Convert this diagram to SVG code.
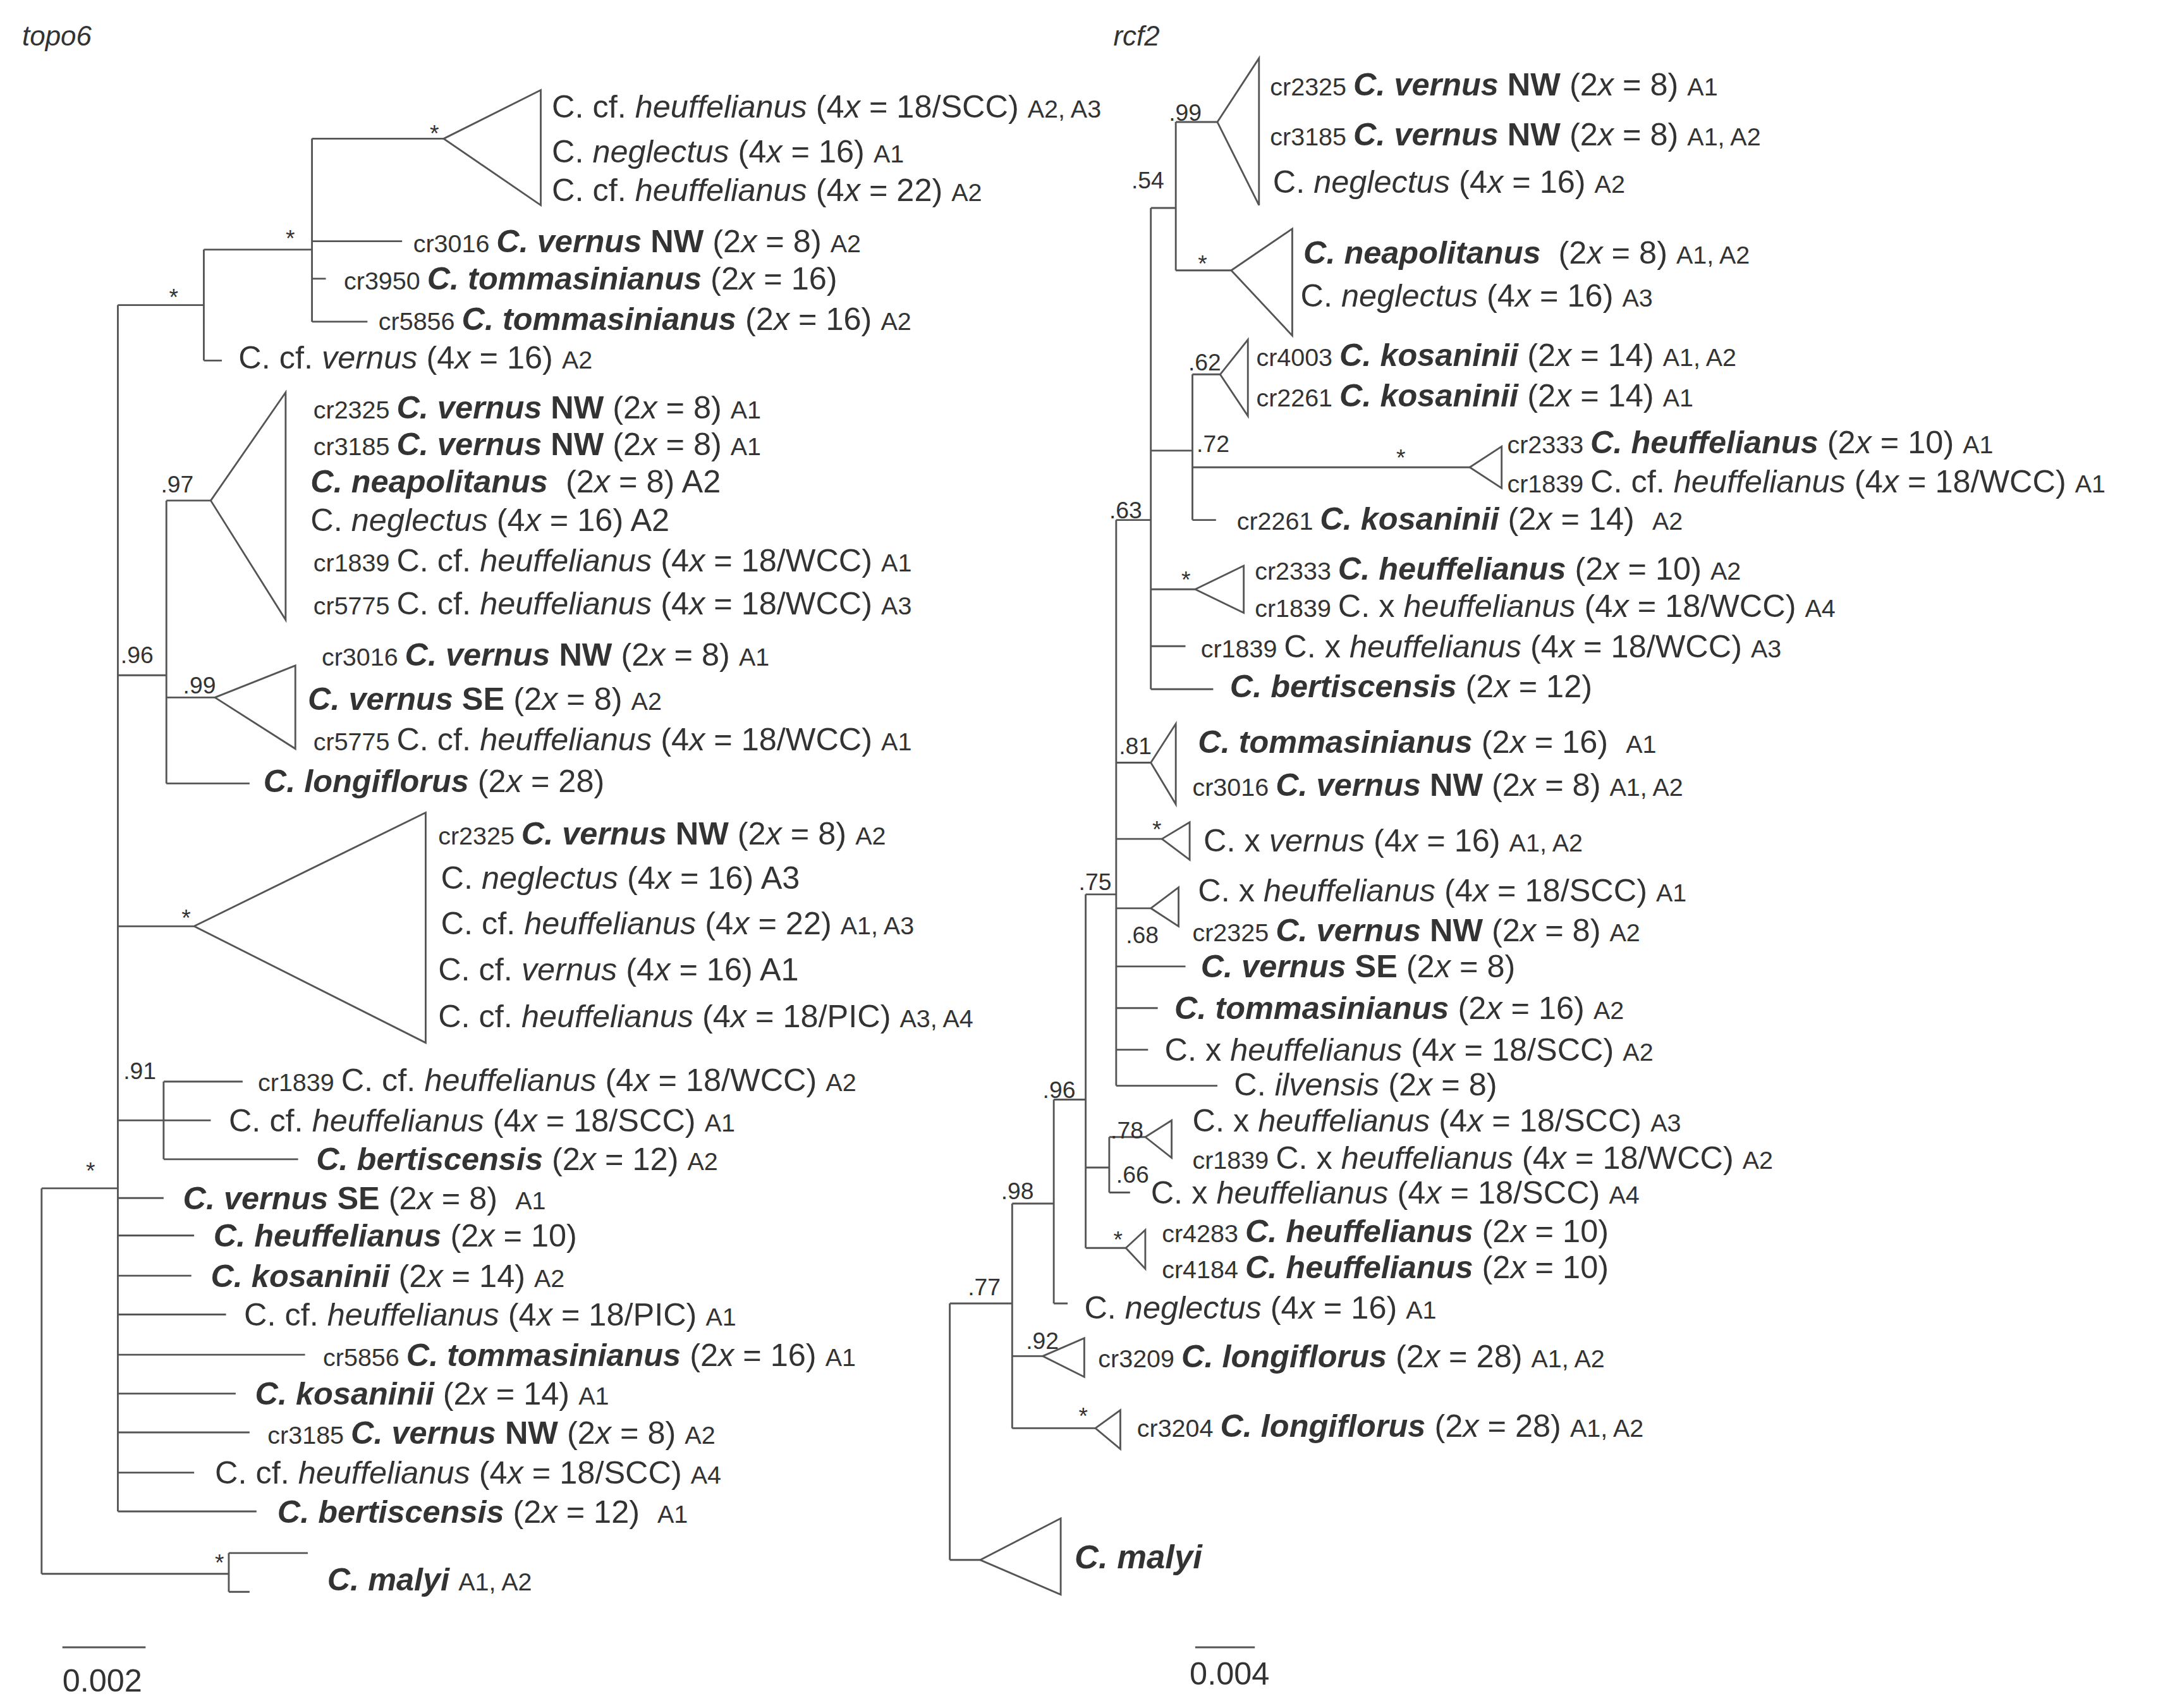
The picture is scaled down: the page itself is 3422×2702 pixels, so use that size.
<svg xmlns="http://www.w3.org/2000/svg" width="3422" height="2702" viewBox="0 0 3422 2702">
<style>
text{font-family:"Liberation Sans",Arial,sans-serif;font-size:23px;fill:#333}
.s{font-size:18px}
.i{font-style:italic}
.b{font-weight:bold}
.bi{font-weight:bold;font-style:italic}
.sup{font-size:17px}
#conn path{fill:none;stroke:#555;stroke-width:1.3}
.tri{fill:none;stroke:#555;stroke-width:1.3}
</style>
<rect width="3422" height="2702" fill="#fff"/>
<g transform="scale(2.1936)">
<g id="conn">
<path d="M30,857V1135M30,857H85M30,1135H165M165,1120V1148M165,1120H222M165,1148H180"/>
<path d="M85,220V1090M85,220H147M147,180V260M147,180H225M225,100V232M225,100H320M225,174H290M225,201H235M225,232H265M147,260H160"/>
<path d="M85,487H120M120,361V565M120,361H152M120,503H155M120,565H180M85,668H140"/>
<path d="M118,780V836M118,780H175M85,808H152M118,836H215"/>
<path d="M85,864H118M85,891H140M85,920H138M85,948H163M85,977H220M85,1005H170M85,1033H180M85,1062H140M85,1090H185"/>
<path d="M45,1188H105M862,1188H905"/>
<path d="M685,940V1125M685,940H730M685,1125H707M730,868V1030M730,868H760M730,978H752M730,1030H790M760,793V940M760,793H783M760,940H770"/>
<path d="M783,645V900M783,645H805M783,842H800M800,820V860M800,820H826M800,860H815M783,900H812"/>
<path d="M805,375V783M805,375H830M805,550H830M805,605H838M805,655H830M805,697H855M805,727H835M805,757H828M805,783H878"/>
<path d="M830,150V497M830,150H848M848,88V195M848,88H878M848,195H888M830,325H860M860,270V375M860,270H880M860,337H1060M860,375H877M830,425H862M830,466H855M830,497H875"/>
</g>
<g id="triangles">
<path class="tri" d="M320,100L390,65V148Z"/>
<path class="tri" d="M152,361L206,283V447Z"/>
<path class="tri" d="M155,503L213,480V540Z"/>
<path class="tri" d="M140,668L307,586V752Z"/>
<path class="tri" d="M707,1125L765,1095V1150Z"/>
<path class="tri" d="M878,88L908,42V148Z"/>
<path class="tri" d="M888,195L932,165V242Z"/>
<path class="tri" d="M880,270L900,245V300Z"/>
<path class="tri" d="M1060,337L1083,322V352Z"/>
<path class="tri" d="M862,425L897,408V442Z"/>
<path class="tri" d="M830,550L848,522V580Z"/>
<path class="tri" d="M838,605L858,593V620Z"/>
<path class="tri" d="M830,655L850,640V668Z"/>
<path class="tri" d="M826,820L845,808V835Z"/>
<path class="tri" d="M812,900L826,887V915Z"/>
<path class="tri" d="M752,978L782,965V993Z"/>
<path class="tri" d="M790,1030L808,1017V1045Z"/>
</g>
<g id="support">
<text class="sup" x="310" y="102">*</text><text class="sup" x="206" y="178">*</text><text class="sup" x="122" y="220">*</text>
<text class="sup" x="116" y="355">.97</text><text class="sup" x="87" y="478">.96</text><text class="sup" x="132" y="500">.99</text>
<text class="sup" x="131" y="668">*</text><text class="sup" x="89" y="778">.91</text><text class="sup" x="62" y="850">*</text><text class="sup" x="155" y="1133">*</text>
<text class="sup" x="843" y="87">.99</text><text class="sup" x="816" y="136">.54</text><text class="sup" x="864" y="196">*</text>
<text class="sup" x="857" y="267">.62</text><text class="sup" x="863" y="326">.72</text><text class="sup" x="1007" y="336">*</text>
<text class="sup" x="800" y="374">.63</text><text class="sup" x="852" y="424">*</text><text class="sup" x="807" y="544">.81</text>
<text class="sup" x="831" y="604">*</text><text class="sup" x="778" y="642">.75</text><text class="sup" x="812" y="680">.68</text>
<text class="sup" x="801" y="821">.78</text><text class="sup" x="805" y="853">.66</text><text class="sup" x="803" y="900">*</text>
<text class="sup" x="752" y="792">.96</text><text class="sup" x="722" y="865">.98</text><text class="sup" x="698" y="934">.77</text>
<text class="sup" x="740" y="973">.92</text><text class="sup" x="778" y="1027">*</text>
</g>
<g id="labels-left">
<text class="i" x="16" y="33" style="font-size:20px">topo6</text>
<text x="398" y="85">C. cf. <tspan class="i">heuffelianus</tspan> (4<tspan class="i">x</tspan> = 18/SCC) <tspan class="s">A2, A3</tspan></text>
<text x="398" y="117">C. <tspan class="i">neglectus</tspan> (4<tspan class="i">x</tspan> = 16) <tspan class="s">A1</tspan></text>
<text x="398" y="145">C. cf. <tspan class="i">heuffelianus</tspan> (4<tspan class="i">x</tspan> = 22) <tspan class="s">A2</tspan></text>
<text x="298" y="182"><tspan class="s">cr3016 </tspan><tspan class="bi">C. vernus</tspan><tspan class="b"> NW</tspan> (2<tspan class="i">x</tspan> = 8) <tspan class="s">A2</tspan></text>
<text x="248" y="209"><tspan class="s">cr3950 </tspan><tspan class="bi">C. tommasinianus</tspan> (2<tspan class="i">x</tspan> = 16)</text>
<text x="273" y="238"><tspan class="s">cr5856 </tspan><tspan class="bi">C. tommasinianus</tspan> (2<tspan class="i">x</tspan> = 16) <tspan class="s">A2</tspan></text>
<text x="172" y="266">C. cf. <tspan class="i">vernus</tspan> (4<tspan class="i">x</tspan> = 16) <tspan class="s">A2</tspan></text>
<text x="226" y="302"><tspan class="s">cr2325 </tspan><tspan class="bi">C. vernus</tspan><tspan class="b"> NW</tspan> (2<tspan class="i">x</tspan> = 8) <tspan class="s">A1</tspan></text>
<text x="226" y="328"><tspan class="s">cr3185 </tspan><tspan class="bi">C. vernus</tspan><tspan class="b"> NW</tspan> (2<tspan class="i">x</tspan> = 8) <tspan class="s">A1</tspan></text>
<text x="224" y="355"><tspan class="bi">C. neapolitanus</tspan>&#160; (2<tspan class="i">x</tspan> = 8) A2</text>
<text x="224" y="383">C. <tspan class="i">neglectus</tspan> (4<tspan class="i">x</tspan> = 16) A2</text>
<text x="226" y="412"><tspan class="s">cr1839 </tspan>C. cf. <tspan class="i">heuffelianus</tspan> (4<tspan class="i">x</tspan> = 18/WCC) <tspan class="s">A1</tspan></text>
<text x="226" y="443"><tspan class="s">cr5775 </tspan>C. cf. <tspan class="i">heuffelianus</tspan> (4<tspan class="i">x</tspan> = 18/WCC) <tspan class="s">A3</tspan></text>
<text x="232" y="480"><tspan class="s">cr3016 </tspan><tspan class="bi">C. vernus</tspan><tspan class="b"> NW</tspan> (2<tspan class="i">x</tspan> = 8) <tspan class="s">A1</tspan></text>
<text x="222" y="512"><tspan class="bi">C. vernus</tspan><tspan class="b"> SE</tspan> (2<tspan class="i">x</tspan> = 8) <tspan class="s">A2</tspan></text>
<text x="226" y="541"><tspan class="s">cr5775 </tspan>C. cf. <tspan class="i">heuffelianus</tspan> (4<tspan class="i">x</tspan> = 18/WCC) <tspan class="s">A1</tspan></text>
<text x="190" y="571"><tspan class="bi">C. longiflorus</tspan> (2<tspan class="i">x</tspan> = 28)</text>
<text x="316" y="609"><tspan class="s">cr2325 </tspan><tspan class="bi">C. vernus</tspan><tspan class="b"> NW</tspan> (2<tspan class="i">x</tspan> = 8) <tspan class="s">A2</tspan></text>
<text x="318" y="641">C. <tspan class="i">neglectus</tspan> (4<tspan class="i">x</tspan> = 16) A3</text>
<text x="318" y="674">C. cf. <tspan class="i">heuffelianus</tspan> (4<tspan class="i">x</tspan> = 22) <tspan class="s">A1, A3</tspan></text>
<text x="316" y="707">C. cf. <tspan class="i">vernus</tspan> (4<tspan class="i">x</tspan> = 16) A1</text>
<text x="316" y="741">C. cf. <tspan class="i">heuffelianus</tspan> (4<tspan class="i">x</tspan> = 18/PIC) <tspan class="s">A3, A4</tspan></text>
<text x="186" y="787"><tspan class="s">cr1839 </tspan>C. cf. <tspan class="i">heuffelianus</tspan> (4<tspan class="i">x</tspan> = 18/WCC) <tspan class="s">A2</tspan></text>
<text x="165" y="816">C. cf. <tspan class="i">heuffelianus</tspan> (4<tspan class="i">x</tspan> = 18/SCC) <tspan class="s">A1</tspan></text>
<text x="228" y="844"><tspan class="bi">C. bertiscensis</tspan> (2<tspan class="i">x</tspan> = 12) <tspan class="s">A2</tspan></text>
<text x="132" y="872"><tspan class="bi">C. vernus</tspan><tspan class="b"> SE</tspan> (2<tspan class="i">x</tspan> = 8)&#160; <tspan class="s">A1</tspan></text>
<text x="154" y="899"><tspan class="bi">C. heuffelianus</tspan> (2<tspan class="i">x</tspan> = 10)</text>
<text x="152" y="928"><tspan class="bi">C. kosaninii</tspan> (2<tspan class="i">x</tspan> = 14) <tspan class="s">A2</tspan></text>
<text x="176" y="956">C. cf. <tspan class="i">heuffelianus</tspan> (4<tspan class="i">x</tspan> = 18/PIC) <tspan class="s">A1</tspan></text>
<text x="233" y="985"><tspan class="s">cr5856 </tspan><tspan class="bi">C. tommasinianus</tspan> (2<tspan class="i">x</tspan> = 16) <tspan class="s">A1</tspan></text>
<text x="184" y="1013"><tspan class="bi">C. kosaninii</tspan> (2<tspan class="i">x</tspan> = 14) <tspan class="s">A1</tspan></text>
<text x="193" y="1041"><tspan class="s">cr3185 </tspan><tspan class="bi">C. vernus</tspan><tspan class="b"> NW</tspan> (2<tspan class="i">x</tspan> = 8) <tspan class="s">A2</tspan></text>
<text x="155" y="1070">C. cf. <tspan class="i">heuffelianus</tspan> (4<tspan class="i">x</tspan> = 18/SCC) <tspan class="s">A4</tspan></text>
<text x="200" y="1098"><tspan class="bi">C. bertiscensis</tspan> (2<tspan class="i">x</tspan> = 12)&#160; <tspan class="s">A1</tspan></text>
<text x="236" y="1147"><tspan class="bi">C. malyi</tspan> <tspan class="s">A1, A2</tspan></text>
<text x="45" y="1220">0.002</text>
</g>
<g id="labels-right">
<text class="i" x="803" y="33" style="font-size:20px">rcf2</text>
<text x="916" y="69"><tspan class="s">cr2325 </tspan><tspan class="bi">C. vernus</tspan><tspan class="b"> NW</tspan> (2<tspan class="i">x</tspan> = 8) <tspan class="s">A1</tspan></text>
<text x="916" y="105"><tspan class="s">cr3185 </tspan><tspan class="bi">C. vernus</tspan><tspan class="b"> NW</tspan> (2<tspan class="i">x</tspan> = 8) <tspan class="s">A1, A2</tspan></text>
<text x="918" y="139">C. <tspan class="i">neglectus</tspan> (4<tspan class="i">x</tspan> = 16) <tspan class="s">A2</tspan></text>
<text x="940" y="190"><tspan class="bi">C. neapolitanus</tspan>&#160; (2<tspan class="i">x</tspan> = 8) <tspan class="s">A1, A2</tspan></text>
<text x="938" y="221">C. <tspan class="i">neglectus</tspan> (4<tspan class="i">x</tspan> = 16) <tspan class="s">A3</tspan></text>
<text x="906" y="264"><tspan class="s">cr4003 </tspan><tspan class="bi">C. kosaninii</tspan> (2<tspan class="i">x</tspan> = 14) <tspan class="s">A1, A2</tspan></text>
<text x="906" y="293"><tspan class="s">cr2261 </tspan><tspan class="bi">C. kosaninii</tspan> (2<tspan class="i">x</tspan> = 14) <tspan class="s">A1</tspan></text>
<text x="1087" y="327"><tspan class="s">cr2333 </tspan><tspan class="bi">C. heuffelianus</tspan> (2<tspan class="i">x</tspan> = 10) <tspan class="s">A1</tspan></text>
<text x="1087" y="355"><tspan class="s">cr1839 </tspan>C. cf. <tspan class="i">heuffelianus</tspan> (4<tspan class="i">x</tspan> = 18/WCC) <tspan class="s">A1</tspan></text>
<text x="892" y="382"><tspan class="s">cr2261 </tspan><tspan class="bi">C. kosaninii</tspan> (2<tspan class="i">x</tspan> = 14)&#160; <tspan class="s">A2</tspan></text>
<text x="905" y="418"><tspan class="s">cr2333 </tspan><tspan class="bi">C. heuffelianus</tspan> (2<tspan class="i">x</tspan> = 10) <tspan class="s">A2</tspan></text>
<text x="905" y="445"><tspan class="s">cr1839 </tspan>C. x <tspan class="i">heuffelianus</tspan> (4<tspan class="i">x</tspan> = 18/WCC) <tspan class="s">A4</tspan></text>
<text x="866" y="474"><tspan class="s">cr1839 </tspan>C. x <tspan class="i">heuffelianus</tspan> (4<tspan class="i">x</tspan> = 18/WCC) <tspan class="s">A3</tspan></text>
<text x="887" y="503"><tspan class="bi">C. bertiscensis</tspan> (2<tspan class="i">x</tspan> = 12)</text>
<text x="864" y="543"><tspan class="bi">C. tommasinianus</tspan> (2<tspan class="i">x</tspan> = 16)&#160; <tspan class="s">A1</tspan></text>
<text x="860" y="574"><tspan class="s">cr3016 </tspan><tspan class="bi">C. vernus</tspan><tspan class="b"> NW</tspan> (2<tspan class="i">x</tspan> = 8) <tspan class="s">A1, A2</tspan></text>
<text x="868" y="614">C. x <tspan class="i">vernus</tspan> (4<tspan class="i">x</tspan> = 16) <tspan class="s">A1, A2</tspan></text>
<text x="864" y="650">C. x <tspan class="i">heuffelianus</tspan> (4<tspan class="i">x</tspan> = 18/SCC) <tspan class="s">A1</tspan></text>
<text x="860" y="679"><tspan class="s">cr2325 </tspan><tspan class="bi">C. vernus</tspan><tspan class="b"> NW</tspan> (2<tspan class="i">x</tspan> = 8) <tspan class="s">A2</tspan></text>
<text x="866" y="705"><tspan class="bi">C. vernus</tspan><tspan class="b"> SE</tspan> (2<tspan class="i">x</tspan> = 8)</text>
<text x="847" y="735"><tspan class="bi">C. tommasinianus</tspan> (2<tspan class="i">x</tspan> = 16) <tspan class="s">A2</tspan></text>
<text x="840" y="765">C. x <tspan class="i">heuffelianus</tspan> (4<tspan class="i">x</tspan> = 18/SCC) <tspan class="s">A2</tspan></text>
<text x="890" y="790">C. <tspan class="i">ilvensis</tspan> (2<tspan class="i">x</tspan> = 8)</text>
<text x="860" y="816">C. x <tspan class="i">heuffelianus</tspan> (4<tspan class="i">x</tspan> = 18/SCC) <tspan class="s">A3</tspan></text>
<text x="860" y="843"><tspan class="s">cr1839 </tspan>C. x <tspan class="i">heuffelianus</tspan> (4<tspan class="i">x</tspan> = 18/WCC) <tspan class="s">A2</tspan></text>
<text x="830" y="868">C. x <tspan class="i">heuffelianus</tspan> (4<tspan class="i">x</tspan> = 18/SCC) <tspan class="s">A4</tspan></text>
<text x="838" y="896"><tspan class="s">cr4283 </tspan><tspan class="bi">C. heuffelianus</tspan> (2<tspan class="i">x</tspan> = 10)</text>
<text x="838" y="922"><tspan class="s">cr4184 </tspan><tspan class="bi">C. heuffelianus</tspan> (2<tspan class="i">x</tspan> = 10)</text>
<text x="782" y="951">C. <tspan class="i">neglectus</tspan> (4<tspan class="i">x</tspan> = 16) <tspan class="s">A1</tspan></text>
<text x="792" y="986"><tspan class="s">cr3209 </tspan><tspan class="bi">C. longiflorus</tspan> (2<tspan class="i">x</tspan> = 28) <tspan class="s">A1, A2</tspan></text>
<text x="820" y="1036"><tspan class="s">cr3204 </tspan><tspan class="bi">C. longiflorus</tspan> (2<tspan class="i">x</tspan> = 28) <tspan class="s">A1, A2</tspan></text>
<text x="775" y="1131" class="bi" style="font-size:24px">C. malyi</text>
<text x="858" y="1215">0.004</text>
</g>
</g>
</svg>
